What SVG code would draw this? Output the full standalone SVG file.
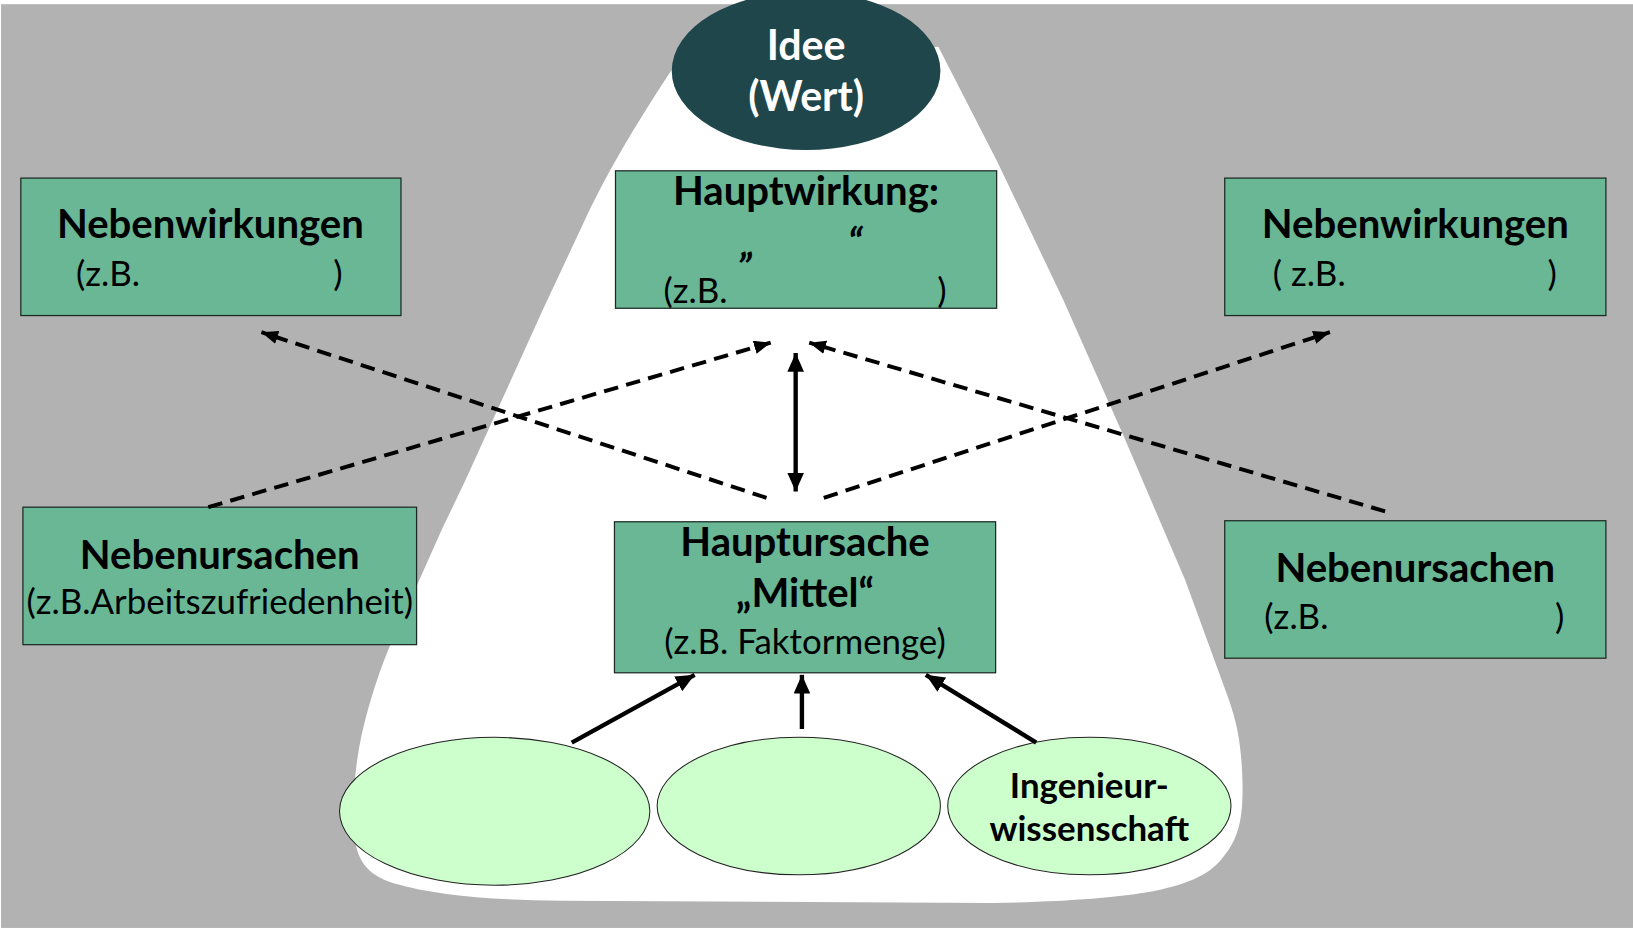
<svg xmlns="http://www.w3.org/2000/svg" width="1633" height="928" viewBox="0 0 1633 928">
<defs>
<style>
.box{fill:#69B795;stroke:#1c2a24;stroke-width:1.2}
.oval{fill:#CCFFCC;stroke:#222;stroke-width:1}
.b{font-family:Lato,Carlito,"Liberation Sans",sans-serif;font-weight:bold;font-size:38.5px;fill:#000}
.r{font-family:Lato,Carlito,"Liberation Sans",sans-serif;font-size:33.5px;fill:#000}
.w{font-family:Lato,Carlito,"Liberation Sans",sans-serif;font-weight:bold;font-size:39.5px;fill:#fff}
.e{font-family:Lato,Carlito,"Liberation Sans",sans-serif;font-weight:bold;font-size:33.5px;fill:#000}
.dash{fill:none;stroke:#000;stroke-width:3.8;stroke-dasharray:14 8}
.solid{fill:none;stroke:#000;stroke-width:4.2}
</style>
<marker id="ah" markerUnits="userSpaceOnUse" markerWidth="18" markerHeight="14" refX="16" refY="6.5" orient="auto-start-reverse">
<path d="M0,0 L16,6.5 L0,13 z" fill="#000"/>
</marker>
<marker id="ahs" markerUnits="userSpaceOnUse" markerWidth="19" markerHeight="16" refX="18" refY="8" orient="auto-start-reverse">
<path d="M0,0 L18,8 L0,16 z" fill="#000"/>
</marker>
</defs>
<rect x="0" y="0" width="1633" height="928" fill="#fff"/>
<g transform="scale(1.04145)">
<rect x="1" y="4" width="1567" height="887" fill="#B2B2B2"/>
<path id="funnel" d="M645,67 C610,120 580,170 557,221 L521,298 L447,461 L424,509 L374,621 C360,655 350,690 345,717 C340,745 338,775 340,800 C342,825 352,840 378,848 C420,860 470,864 540,865 L954,867 C1020,866 1070,862 1100,857 C1140,850 1160,840 1172,826 C1188,808 1194,790 1193,750 C1192,715 1188,695 1180,672 L1138,557 L1079,419 L1021,288 L957,154 L901,45 Z" fill="#fff"/>

<g id="idee">
<ellipse cx="774" cy="68" rx="129" ry="76" fill="#1F464A"/>
<text class="w" x="774" y="58" text-anchor="middle">Idee</text>
<text class="w" x="774" y="107" text-anchor="middle">(Wert)</text>
</g>

<g id="nebenwirkungen-links">
<rect class="box" x="20" y="171" width="365" height="132"/>
<text class="b" x="202" y="229" text-anchor="middle">Nebenwirkungen</text>
<text class="r" x="73" y="275">(z.B.</text>
<text class="r" x="320" y="275">)</text>
</g>

<g id="hauptwirkung">
<rect class="box" x="591" y="164" width="366" height="132"/>
<text class="b" x="774" y="197" text-anchor="middle">Hauptwirkung:</text>
<text class="b" x="711" y="247" font-style="italic" font-size="42">„</text>
<text class="b" x="814" y="247" font-style="italic" font-size="42">“</text>
<text class="r" x="637" y="291">(z.B.</text>
<text class="r" x="900" y="291">)</text>
</g>

<g id="nebenwirkungen-rechts">
<rect class="box" x="1176" y="171" width="366" height="132"/>
<text class="b" x="1359" y="229" text-anchor="middle">Nebenwirkungen</text>
<text class="r" x="1222" y="275">( z.B.</text>
<text class="r" x="1486" y="275">)</text>
</g>

<g id="nebenursachen-links">
<rect class="box" x="22" y="487" width="378" height="132"/>
<text class="b" x="211" y="546" text-anchor="middle">Nebenursachen</text>
<text class="r" x="211" y="590" text-anchor="middle">(z.B.Arbeitszufriedenheit)</text>
</g>

<g id="hauptursache">
<rect class="box" x="590" y="501" width="366" height="145"/>
<text class="b" x="773" y="534" text-anchor="middle">Hauptursache</text>
<text class="b" x="773" y="583" text-anchor="middle">„Mittel“</text>
<text class="r" x="773" y="628" text-anchor="middle">(z.B. Faktormenge)</text>
</g>

<g id="nebenursachen-rechts">
<rect class="box" x="1176" y="500" width="366" height="132"/>
<text class="b" x="1359" y="559" text-anchor="middle">Nebenursachen</text>
<text class="r" x="1214" y="604">(z.B.</text>
<text class="r" x="1493" y="604">)</text>
</g>

<g id="oval-1">
<ellipse class="oval" cx="475" cy="779" rx="149" ry="71"/>
</g>
<g id="oval-2">
<ellipse class="oval" cx="767" cy="774" rx="136" ry="66"/>
</g>
<g id="oval-3">
<ellipse class="oval" cx="1046" cy="774" rx="136" ry="66"/>
<text class="e" x="1046" y="766" text-anchor="middle">Ingenieur-</text>
<text class="e" x="1046" y="808" text-anchor="middle">wissenschaft</text>
</g>

<g id="connectors">
<line class="dash" x1="736" y1="478" x2="251" y2="319" marker-end="url(#ah)"/>
<line class="dash" x1="200" y1="487" x2="740" y2="329" marker-end="url(#ah)"/>
<line class="dash" x1="791" y1="478" x2="1277" y2="319" marker-end="url(#ah)"/>
<line class="dash" x1="1330" y1="491" x2="777" y2="329" marker-end="url(#ah)"/>
<line class="solid" x1="764" y1="339" x2="764" y2="472" marker-start="url(#ahs)" marker-end="url(#ahs)"/>
<line class="solid" x1="549" y1="713" x2="667" y2="648" marker-end="url(#ahs)"/>
<line class="solid" x1="770" y1="700" x2="770" y2="648" marker-end="url(#ahs)"/>
<line class="solid" x1="995" y1="713" x2="889" y2="648" marker-end="url(#ahs)"/>
</g>
</g>
</svg>
